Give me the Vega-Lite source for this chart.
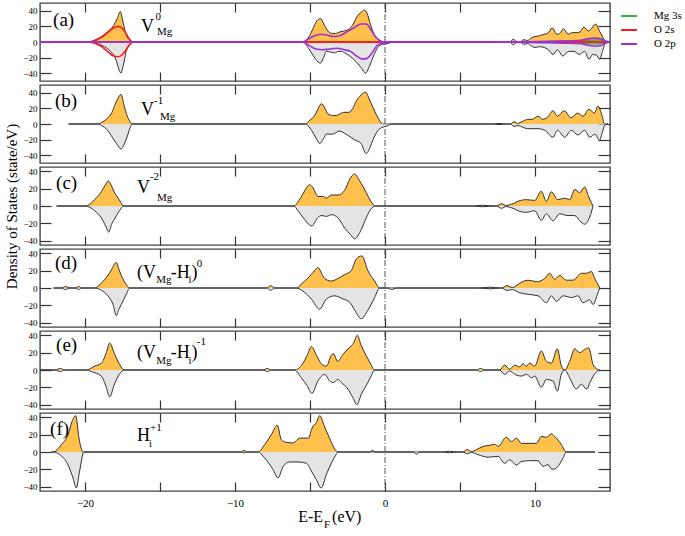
{
"$schema":"https://vega.github.io/schema/vega-lite/v6.json",
"background":"white",
"padding":{"left":3,"top":1,"right":5,"bottom":5},
"spacing":4,
"bounds":"flush",
"config":{
 "view":{"stroke":"#444","strokeWidth":1.4},
 "axis":{"grid":false,"domain":false,"tickColor":"#333","tickWidth":1.2,"labelFont":"Liberation Serif","labelFontSize":9,"labelColor":"#000","titleFont":"Liberation Serif","titleFontWeight":"normal","titleColor":"#000"},
 "text":{"font":"Liberation Serif","align":"left","baseline":"middle","fontSize":11,"color":"#000"}
},
"datasets":{
"a_up":[{"E":-23,"dos":0},{"E":-19.8,"dos":0},{"E":-19.3,"dos":3},{"E":-18.9,"dos":7},{"E":-18.5,"dos":13},{"E":-18.1,"dos":21},{"E":-17.85,"dos":30},{"E":-17.65,"dos":39},{"E":-17.45,"dos":24},{"E":-17.25,"dos":9},{"E":-17.0,"dos":2},{"E":-16.8,"dos":0},{"E":-5.45,"dos":0},{"E":-5.1,"dos":6},{"E":-4.8,"dos":17},{"E":-4.55,"dos":27},{"E":-4.3,"dos":30},{"E":-4.05,"dos":22},{"E":-3.8,"dos":14},{"E":-3.55,"dos":11},{"E":-3.3,"dos":11},{"E":-3.0,"dos":13},{"E":-2.75,"dos":14},{"E":-2.45,"dos":16},{"E":-2.15,"dos":22},{"E":-1.85,"dos":33},{"E":-1.6,"dos":38},{"E":-1.4,"dos":41},{"E":-1.2,"dos":37},{"E":-0.95,"dos":21},{"E":-0.7,"dos":9},{"E":-0.45,"dos":3},{"E":-0.25,"dos":0},{"E":7.1,"dos":0},{"E":7.3,"dos":0.8},{"E":7.5,"dos":0},{"E":8.3,"dos":0},{"E":8.55,"dos":3.5},{"E":8.85,"dos":0},{"E":9.0,"dos":0},{"E":9.25,"dos":3},{"E":9.5,"dos":2},{"E":9.75,"dos":5},{"E":10.0,"dos":7},{"E":10.3,"dos":8},{"E":10.6,"dos":10},{"E":10.85,"dos":11},{"E":11.15,"dos":18},{"E":11.45,"dos":10},{"E":11.65,"dos":11},{"E":11.9,"dos":17},{"E":12.2,"dos":10},{"E":12.5,"dos":12},{"E":12.75,"dos":12},{"E":13.0,"dos":13},{"E":13.25,"dos":19},{"E":13.55,"dos":14},{"E":13.75,"dos":17},{"E":14.05,"dos":23},{"E":14.3,"dos":14},{"E":14.55,"dos":5},{"E":14.7,"dos":0},{"E":15,"dos":0}],
"a_dn":[{"E":-23,"dos":0},{"E":-19.8,"dos":0},{"E":-19.2,"dos":-2},{"E":-18.8,"dos":-5},{"E":-18.3,"dos":-12},{"E":-17.95,"dos":-22},{"E":-17.7,"dos":-37},{"E":-17.6,"dos":-40},{"E":-17.45,"dos":-30},{"E":-17.25,"dos":-12},{"E":-17.0,"dos":-3},{"E":-16.8,"dos":0},{"E":-5.45,"dos":0},{"E":-5.1,"dos":-8},{"E":-4.8,"dos":-17},{"E":-4.55,"dos":-24},{"E":-4.3,"dos":-27},{"E":-4.1,"dos":-20},{"E":-3.9,"dos":-12},{"E":-3.6,"dos":-13},{"E":-3.35,"dos":-14},{"E":-3.1,"dos":-12},{"E":-2.9,"dos":-12},{"E":-2.6,"dos":-15},{"E":-2.35,"dos":-18},{"E":-2.05,"dos":-23},{"E":-1.8,"dos":-28},{"E":-1.55,"dos":-34},{"E":-1.3,"dos":-40},{"E":-1.1,"dos":-34},{"E":-0.85,"dos":-22},{"E":-0.6,"dos":-11},{"E":-0.4,"dos":-5},{"E":-0.1,"dos":-3},{"E":0.2,"dos":-2},{"E":0.45,"dos":0},{"E":7.1,"dos":0},{"E":7.3,"dos":-0.8},{"E":7.5,"dos":0},{"E":8.3,"dos":0},{"E":8.55,"dos":-3.5},{"E":8.85,"dos":0},{"E":9.0,"dos":0},{"E":9.25,"dos":-3},{"E":9.5,"dos":-2},{"E":9.75,"dos":-5},{"E":10.0,"dos":-7},{"E":10.3,"dos":-6},{"E":10.6,"dos":-7},{"E":10.9,"dos":-10},{"E":11.2,"dos":-16},{"E":11.5,"dos":-10},{"E":11.85,"dos":-18},{"E":12.25,"dos":-12},{"E":12.6,"dos":-12},{"E":12.95,"dos":-16},{"E":13.3,"dos":-12},{"E":13.6,"dos":-22},{"E":13.85,"dos":-16},{"E":14.1,"dos":-17},{"E":14.3,"dos":-22},{"E":14.5,"dos":-12},{"E":14.65,"dos":-3},{"E":14.85,"dos":0},{"E":15,"dos":0}],
"a_pdos":[{"orb":"Mg 3s","spin":"up","E":-23,"dos":0},{"orb":"Mg 3s","spin":"up","E":9,"dos":0},{"orb":"Mg 3s","spin":"up","E":11,"dos":0.5},{"orb":"Mg 3s","spin":"up","E":12.5,"dos":1.5},{"orb":"Mg 3s","spin":"up","E":13.5,"dos":2},{"orb":"Mg 3s","spin":"up","E":14.2,"dos":2.5},{"orb":"Mg 3s","spin":"up","E":14.7,"dos":1},{"orb":"Mg 3s","spin":"up","E":15,"dos":0},
{"orb":"Mg 3s","spin":"dn","E":-23,"dos":0},{"orb":"Mg 3s","spin":"dn","E":9,"dos":0},{"orb":"Mg 3s","spin":"dn","E":11,"dos":-0.5},{"orb":"Mg 3s","spin":"dn","E":12.5,"dos":-1.5},{"orb":"Mg 3s","spin":"dn","E":13.5,"dos":-2},{"orb":"Mg 3s","spin":"dn","E":14.2,"dos":-2.5},{"orb":"Mg 3s","spin":"dn","E":14.7,"dos":-1},{"orb":"Mg 3s","spin":"dn","E":15,"dos":0},
{"orb":"O 2s","spin":"up","E":-23,"dos":0},{"orb":"O 2s","spin":"up","E":-19.8,"dos":0},{"orb":"O 2s","spin":"up","E":-19.3,"dos":2},{"orb":"O 2s","spin":"up","E":-18.9,"dos":6},{"orb":"O 2s","spin":"up","E":-18.5,"dos":12},{"orb":"O 2s","spin":"up","E":-18.1,"dos":18},{"orb":"O 2s","spin":"up","E":-17.8,"dos":20},{"orb":"O 2s","spin":"up","E":-17.55,"dos":18},{"orb":"O 2s","spin":"up","E":-17.3,"dos":12},{"orb":"O 2s","spin":"up","E":-17.05,"dos":4},{"orb":"O 2s","spin":"up","E":-16.8,"dos":0},{"orb":"O 2s","spin":"up","E":15,"dos":0},
{"orb":"O 2s","spin":"dn","E":-23,"dos":0},{"orb":"O 2s","spin":"dn","E":-19.8,"dos":0},{"orb":"O 2s","spin":"dn","E":-19.3,"dos":-2},{"orb":"O 2s","spin":"dn","E":-18.9,"dos":-6},{"orb":"O 2s","spin":"dn","E":-18.5,"dos":-12},{"orb":"O 2s","spin":"dn","E":-18.1,"dos":-18},{"orb":"O 2s","spin":"dn","E":-17.8,"dos":-19},{"orb":"O 2s","spin":"dn","E":-17.55,"dos":-17},{"orb":"O 2s","spin":"dn","E":-17.3,"dos":-11},{"orb":"O 2s","spin":"dn","E":-17.05,"dos":-4},{"orb":"O 2s","spin":"dn","E":-16.8,"dos":0},{"orb":"O 2s","spin":"dn","E":15,"dos":0},
{"orb":"O 2p","spin":"up","E":-23,"dos":0},{"orb":"O 2p","spin":"up","E":-5.5,"dos":0},{"orb":"O 2p","spin":"up","E":-5.1,"dos":4},{"orb":"O 2p","spin":"up","E":-4.7,"dos":8},{"orb":"O 2p","spin":"up","E":-4.3,"dos":10},{"orb":"O 2p","spin":"up","E":-3.9,"dos":9},{"orb":"O 2p","spin":"up","E":-3.4,"dos":7},{"orb":"O 2p","spin":"up","E":-2.9,"dos":9},{"orb":"O 2p","spin":"up","E":-2.45,"dos":14},{"orb":"O 2p","spin":"up","E":-2.0,"dos":19},{"orb":"O 2p","spin":"up","E":-1.6,"dos":23},{"orb":"O 2p","spin":"up","E":-1.25,"dos":23},{"orb":"O 2p","spin":"up","E":-0.95,"dos":16},{"orb":"O 2p","spin":"up","E":-0.65,"dos":7},{"orb":"O 2p","spin":"up","E":-0.35,"dos":2},{"orb":"O 2p","spin":"up","E":-0.1,"dos":0},{"orb":"O 2p","spin":"up","E":7,"dos":0},{"orb":"O 2p","spin":"up","E":11,"dos":1},{"orb":"O 2p","spin":"up","E":13,"dos":2},{"orb":"O 2p","spin":"up","E":13.5,"dos":4},{"orb":"O 2p","spin":"up","E":14,"dos":5},{"orb":"O 2p","spin":"up","E":14.4,"dos":4},{"orb":"O 2p","spin":"up","E":14.75,"dos":1},{"orb":"O 2p","spin":"up","E":15,"dos":0},
{"orb":"O 2p","spin":"dn","E":-23,"dos":0},{"orb":"O 2p","spin":"dn","E":-5.5,"dos":0},{"orb":"O 2p","spin":"dn","E":-5.1,"dos":-4},{"orb":"O 2p","spin":"dn","E":-4.6,"dos":-9},{"orb":"O 2p","spin":"dn","E":-4.2,"dos":-10},{"orb":"O 2p","spin":"dn","E":-3.7,"dos":-9},{"orb":"O 2p","spin":"dn","E":-3.2,"dos":-8},{"orb":"O 2p","spin":"dn","E":-2.7,"dos":-10},{"orb":"O 2p","spin":"dn","E":-2.3,"dos":-12},{"orb":"O 2p","spin":"dn","E":-1.9,"dos":-18},{"orb":"O 2p","spin":"dn","E":-1.5,"dos":-22},{"orb":"O 2p","spin":"dn","E":-1.2,"dos":-21},{"orb":"O 2p","spin":"dn","E":-0.9,"dos":-15},{"orb":"O 2p","spin":"dn","E":-0.5,"dos":-4},{"orb":"O 2p","spin":"dn","E":-0.2,"dos":-1.5},{"orb":"O 2p","spin":"dn","E":0.2,"dos":-1},{"orb":"O 2p","spin":"dn","E":0.5,"dos":0},{"orb":"O 2p","spin":"dn","E":7,"dos":0},{"orb":"O 2p","spin":"dn","E":11,"dos":-1},{"orb":"O 2p","spin":"dn","E":13,"dos":-2},{"orb":"O 2p","spin":"dn","E":13.5,"dos":-4},{"orb":"O 2p","spin":"dn","E":14,"dos":-5.5},{"orb":"O 2p","spin":"dn","E":14.4,"dos":-4.5},{"orb":"O 2p","spin":"dn","E":14.75,"dos":-1},{"orb":"O 2p","spin":"dn","E":15,"dos":0}],
"b_up":[{"E":-21.1,"dos":0},{"E":-19.2,"dos":0},{"E":-18.8,"dos":3},{"E":-18.45,"dos":8.5},{"E":-18.2,"dos":15},{"E":-18.0,"dos":25},{"E":-17.8,"dos":33},{"E":-17.6,"dos":38},{"E":-17.4,"dos":24},{"E":-17.2,"dos":11},{"E":-17.0,"dos":3},{"E":-16.9,"dos":0},{"E":-5.3,"dos":0},{"E":-5.0,"dos":5},{"E":-4.7,"dos":10.5},{"E":-4.45,"dos":20},{"E":-4.25,"dos":26},{"E":-4.0,"dos":20},{"E":-3.8,"dos":13},{"E":-3.5,"dos":11},{"E":-3.25,"dos":11},{"E":-3.0,"dos":13},{"E":-2.75,"dos":15},{"E":-2.4,"dos":15},{"E":-2.15,"dos":20},{"E":-1.9,"dos":30},{"E":-1.6,"dos":37},{"E":-1.3,"dos":41},{"E":-1.05,"dos":32},{"E":-0.8,"dos":21},{"E":-0.55,"dos":11},{"E":-0.35,"dos":4},{"E":-0.15,"dos":0},{"E":7.2,"dos":0},{"E":7.6,"dos":0.8},{"E":8.1,"dos":0},{"E":8.35,"dos":0},{"E":8.6,"dos":3},{"E":8.85,"dos":0.5},{"E":9.0,"dos":2},{"E":9.25,"dos":4},{"E":9.5,"dos":6},{"E":9.8,"dos":6},{"E":10.2,"dos":10},{"E":10.5,"dos":6},{"E":10.85,"dos":9},{"E":11.2,"dos":17},{"E":11.5,"dos":10},{"E":11.95,"dos":17},{"E":12.4,"dos":8},{"E":12.85,"dos":14},{"E":13.2,"dos":10},{"E":13.6,"dos":19},{"E":13.95,"dos":14},{"E":14.2,"dos":23},{"E":14.45,"dos":12},{"E":14.64,"dos":0},{"E":14.87,"dos":0}],
"b_dn":[{"E":-21.1,"dos":0},{"E":-19.2,"dos":0},{"E":-18.9,"dos":-2},{"E":-18.5,"dos":-8},{"E":-18.25,"dos":-15},{"E":-17.9,"dos":-25},{"E":-17.6,"dos":-32},{"E":-17.35,"dos":-24},{"E":-17.15,"dos":-14},{"E":-17.0,"dos":-5},{"E":-16.85,"dos":0},{"E":-5.3,"dos":0},{"E":-4.9,"dos":-8},{"E":-4.6,"dos":-18},{"E":-4.35,"dos":-25},{"E":-4.1,"dos":-19},{"E":-3.9,"dos":-13},{"E":-3.5,"dos":-13},{"E":-3.05,"dos":-9},{"E":-2.6,"dos":-13},{"E":-2.05,"dos":-20},{"E":-1.6,"dos":-25},{"E":-1.25,"dos":-38},{"E":-1.0,"dos":-30},{"E":-0.8,"dos":-20},{"E":-0.35,"dos":-6},{"E":0.2,"dos":-2},{"E":0.4,"dos":0},{"E":7.2,"dos":0},{"E":7.6,"dos":-0.8},{"E":8.1,"dos":0},{"E":8.35,"dos":0},{"E":8.6,"dos":-3},{"E":8.85,"dos":-2},{"E":9.5,"dos":-6},{"E":10.2,"dos":-6},{"E":10.65,"dos":-8},{"E":11.2,"dos":-17},{"E":11.5,"dos":-8},{"E":11.98,"dos":-17},{"E":12.42,"dos":-8},{"E":12.87,"dos":-14},{"E":13.3,"dos":-8},{"E":13.65,"dos":-17},{"E":14.0,"dos":-13},{"E":14.3,"dos":-21},{"E":14.5,"dos":-10},{"E":14.64,"dos":-2},{"E":14.87,"dos":0}],
"c_up":[{"E":-21.9,"dos":0},{"E":-20.0,"dos":0},{"E":-19.6,"dos":3},{"E":-19.35,"dos":7.5},{"E":-19.1,"dos":12},{"E":-18.9,"dos":17},{"E":-18.65,"dos":24},{"E":-18.45,"dos":29},{"E":-18.25,"dos":24},{"E":-18.05,"dos":16},{"E":-17.9,"dos":12},{"E":-17.75,"dos":8},{"E":-17.6,"dos":4},{"E":-17.45,"dos":0},{"E":-6.07,"dos":0},{"E":-5.75,"dos":6},{"E":-5.47,"dos":14},{"E":-5.2,"dos":22},{"E":-5.02,"dos":24.5},{"E":-4.8,"dos":21},{"E":-4.6,"dos":14},{"E":-4.47,"dos":11},{"E":-4.13,"dos":11},{"E":-3.91,"dos":9},{"E":-3.58,"dos":12.7},{"E":-3.13,"dos":12.7},{"E":-2.69,"dos":18},{"E":-2.35,"dos":31},{"E":-2.02,"dos":37},{"E":-1.69,"dos":29},{"E":-1.45,"dos":22},{"E":-1.25,"dos":15.5},{"E":-1.0,"dos":7},{"E":-0.8,"dos":2},{"E":-0.65,"dos":0},{"E":5.8,"dos":0},{"E":6.5,"dos":0.8},{"E":7.3,"dos":0},{"E":7.45,"dos":0},{"E":7.75,"dos":2.7},{"E":8.1,"dos":0.5},{"E":8.3,"dos":1.5},{"E":8.6,"dos":3},{"E":8.87,"dos":5.5},{"E":9.43,"dos":7.3},{"E":9.98,"dos":6.4},{"E":10.42,"dos":17},{"E":10.76,"dos":5.5},{"E":11.09,"dos":16.4},{"E":11.53,"dos":7.3},{"E":11.98,"dos":9},{"E":12.31,"dos":7.3},{"E":12.65,"dos":19},{"E":12.98,"dos":15.5},{"E":13.31,"dos":22},{"E":13.55,"dos":12},{"E":13.75,"dos":4},{"E":13.87,"dos":0}],
"c_dn":[{"E":-21.9,"dos":0},{"E":-20.0,"dos":0},{"E":-19.35,"dos":-5.5},{"E":-18.9,"dos":-14},{"E":-18.6,"dos":-24},{"E":-18.42,"dos":-30},{"E":-18.2,"dos":-20},{"E":-18.0,"dos":-14},{"E":-17.8,"dos":-8},{"E":-17.6,"dos":-3},{"E":-17.45,"dos":0},{"E":-6.07,"dos":0},{"E":-5.8,"dos":-5.5},{"E":-5.36,"dos":-15.5},{"E":-5.1,"dos":-21},{"E":-4.87,"dos":-23},{"E":-4.65,"dos":-18},{"E":-4.5,"dos":-13.6},{"E":-4.2,"dos":-11},{"E":-3.91,"dos":-12},{"E":-3.58,"dos":-10},{"E":-3.13,"dos":-13.6},{"E":-2.69,"dos":-25.5},{"E":-2.3,"dos":-33},{"E":-2.02,"dos":-38},{"E":-1.69,"dos":-31},{"E":-1.25,"dos":-13.6},{"E":-1.0,"dos":-5},{"E":-0.8,"dos":-1},{"E":-0.65,"dos":0},{"E":5.8,"dos":0},{"E":6.5,"dos":-0.8},{"E":7.3,"dos":0},{"E":7.45,"dos":0},{"E":7.75,"dos":-2.7},{"E":8.1,"dos":-0.5},{"E":8.3,"dos":-1.5},{"E":8.6,"dos":-3},{"E":8.87,"dos":-5.5},{"E":9.43,"dos":-7.3},{"E":9.98,"dos":-5.5},{"E":10.42,"dos":-16.4},{"E":10.76,"dos":-9},{"E":11.2,"dos":-17},{"E":11.64,"dos":-9},{"E":12.2,"dos":-11},{"E":12.65,"dos":-11},{"E":12.98,"dos":-17},{"E":13.31,"dos":-21},{"E":13.65,"dos":-12.7},{"E":13.87,"dos":0}],
"d_up":[{"E":-22.1,"dos":0},{"E":-21.6,"dos":0},{"E":-21.3,"dos":1.8},{"E":-21.0,"dos":0},{"E":-20.64,"dos":0},{"E":-20.42,"dos":1.8},{"E":-20.2,"dos":0},{"E":-19.36,"dos":0},{"E":-19.0,"dos":4},{"E":-18.7,"dos":9.5},{"E":-18.45,"dos":15},{"E":-18.24,"dos":21},{"E":-17.91,"dos":29.5},{"E":-17.75,"dos":22},{"E":-17.58,"dos":14.5},{"E":-17.4,"dos":8},{"E":-17.24,"dos":3.6},{"E":-17.02,"dos":0},{"E":-7.9,"dos":0},{"E":-7.62,"dos":2.7},{"E":-7.35,"dos":0},{"E":-5.91,"dos":0},{"E":-5.6,"dos":4},{"E":-5.36,"dos":8},{"E":-5.05,"dos":13},{"E":-4.8,"dos":18},{"E":-4.47,"dos":23.5},{"E":-4.2,"dos":16},{"E":-4.02,"dos":11},{"E":-3.58,"dos":8},{"E":-3.13,"dos":11},{"E":-2.69,"dos":15.5},{"E":-2.25,"dos":20},{"E":-1.91,"dos":33.6},{"E":-1.54,"dos":37},{"E":-1.14,"dos":20},{"E":-0.69,"dos":8},{"E":-0.36,"dos":0},{"E":6.2,"dos":0},{"E":7.0,"dos":0.9},{"E":7.76,"dos":0},{"E":8.13,"dos":2.7},{"E":8.5,"dos":0.5},{"E":8.98,"dos":5.5},{"E":9.54,"dos":9},{"E":10.09,"dos":7.3},{"E":10.65,"dos":11},{"E":10.98,"dos":17},{"E":11.31,"dos":10},{"E":11.65,"dos":14.5},{"E":12.09,"dos":9},{"E":12.54,"dos":9},{"E":13.09,"dos":17},{"E":13.43,"dos":17},{"E":13.76,"dos":19},{"E":13.98,"dos":11},{"E":14.2,"dos":4},{"E":14.31,"dos":0}],
"d_dn":[{"E":-22.1,"dos":0},{"E":-21.6,"dos":0},{"E":-21.3,"dos":-1.8},{"E":-21.0,"dos":0},{"E":-20.64,"dos":0},{"E":-20.42,"dos":-1.8},{"E":-20.2,"dos":0},{"E":-19.36,"dos":0},{"E":-18.9,"dos":-2.7},{"E":-18.47,"dos":-9},{"E":-18.13,"dos":-19},{"E":-17.91,"dos":-32},{"E":-17.75,"dos":-25},{"E":-17.58,"dos":-19},{"E":-17.24,"dos":-7},{"E":-17.02,"dos":0},{"E":-7.9,"dos":0},{"E":-7.62,"dos":-2.7},{"E":-7.35,"dos":0},{"E":-5.91,"dos":0},{"E":-5.47,"dos":-3.6},{"E":-4.91,"dos":-12.7},{"E":-4.36,"dos":-24.5},{"E":-3.91,"dos":-12.7},{"E":-3.36,"dos":-9},{"E":-2.8,"dos":-12.7},{"E":-2.36,"dos":-16.4},{"E":-2.02,"dos":-25.5},{"E":-1.58,"dos":-35.5},{"E":-1.14,"dos":-25.5},{"E":-0.69,"dos":-11},{"E":-0.36,"dos":0},{"E":0.2,"dos":0},{"E":0.45,"dos":-1.8},{"E":0.75,"dos":0},{"E":6.2,"dos":0},{"E":7.0,"dos":-0.9},{"E":7.76,"dos":0},{"E":8.13,"dos":-2.7},{"E":8.5,"dos":-1.8},{"E":8.98,"dos":-5.5},{"E":9.54,"dos":-7.3},{"E":10.2,"dos":-9},{"E":10.76,"dos":-17},{"E":11.09,"dos":-9},{"E":11.43,"dos":-15.5},{"E":11.87,"dos":-9},{"E":12.43,"dos":-11},{"E":12.87,"dos":-9},{"E":13.2,"dos":-17},{"E":13.65,"dos":-13.6},{"E":13.87,"dos":-19},{"E":14.15,"dos":-8},{"E":14.31,"dos":0}],
"e_up":[{"E":-23,"dos":0},{"E":-22.0,"dos":0},{"E":-21.63,"dos":1.8},{"E":-21.36,"dos":0},{"E":-19.91,"dos":0},{"E":-19.36,"dos":4.5},{"E":-18.9,"dos":8},{"E":-18.58,"dos":20},{"E":-18.36,"dos":31},{"E":-18.02,"dos":18},{"E":-17.69,"dos":6.4},{"E":-17.4,"dos":0},{"E":-8.13,"dos":0},{"E":-7.85,"dos":1.8},{"E":-7.58,"dos":0},{"E":-6.03,"dos":0},{"E":-5.5,"dos":7},{"E":-5.2,"dos":16.5},{"E":-4.9,"dos":27},{"E":-4.6,"dos":18},{"E":-4.2,"dos":6.4},{"E":-3.9,"dos":4.5},{"E":-3.6,"dos":16.4},{"E":-3.45,"dos":19},{"E":-3.15,"dos":10},{"E":-2.8,"dos":18},{"E":-2.4,"dos":25.5},{"E":-2.1,"dos":31},{"E":-1.85,"dos":40},{"E":-1.6,"dos":29},{"E":-1.25,"dos":16.4},{"E":-0.95,"dos":7},{"E":-0.7,"dos":0},{"E":6.09,"dos":0},{"E":6.37,"dos":1.8},{"E":6.65,"dos":0},{"E":7.65,"dos":0},{"E":7.98,"dos":5.7},{"E":8.31,"dos":1},{"E":8.65,"dos":5.5},{"E":8.98,"dos":3.6},{"E":9.2,"dos":7.3},{"E":9.43,"dos":4.5},{"E":9.65,"dos":8},{"E":9.98,"dos":4.5},{"E":10.42,"dos":22},{"E":10.76,"dos":10},{"E":11.09,"dos":8},{"E":11.49,"dos":24.5},{"E":11.76,"dos":4.5},{"E":11.98,"dos":0},{"E":12.31,"dos":10},{"E":12.65,"dos":24.5},{"E":12.98,"dos":20},{"E":13.31,"dos":23.7},{"E":13.58,"dos":25.5},{"E":13.87,"dos":6.4},{"E":14.1,"dos":1.5},{"E":14.31,"dos":0}],
"e_dn":[{"E":-23,"dos":0},{"E":-22.0,"dos":0},{"E":-21.63,"dos":-1.8},{"E":-21.36,"dos":0},{"E":-19.91,"dos":0},{"E":-19.58,"dos":-1.8},{"E":-18.9,"dos":-7.3},{"E":-18.58,"dos":-20},{"E":-18.36,"dos":-31},{"E":-18.02,"dos":-15.5},{"E":-17.69,"dos":-4.5},{"E":-17.4,"dos":0},{"E":-8.13,"dos":0},{"E":-7.85,"dos":-1.8},{"E":-7.58,"dos":0},{"E":-6.03,"dos":0},{"E":-5.58,"dos":-9},{"E":-5.2,"dos":-18},{"E":-4.87,"dos":-27},{"E":-4.47,"dos":-12.7},{"E":-4.02,"dos":-5},{"E":-3.69,"dos":-12.7},{"E":-3.47,"dos":-14.5},{"E":-3.14,"dos":-11},{"E":-2.91,"dos":-14.5},{"E":-2.47,"dos":-22},{"E":-2.14,"dos":-32},{"E":-1.87,"dos":-40},{"E":-1.58,"dos":-28},{"E":-1.14,"dos":-14.5},{"E":-0.9,"dos":-6},{"E":-0.69,"dos":0},{"E":6.09,"dos":0},{"E":6.37,"dos":-1.8},{"E":6.65,"dos":0},{"E":7.65,"dos":0},{"E":7.98,"dos":-5},{"E":8.31,"dos":-1},{"E":8.65,"dos":-5},{"E":9.09,"dos":-7},{"E":9.43,"dos":-5},{"E":9.76,"dos":-9},{"E":9.98,"dos":-7},{"E":10.42,"dos":-20},{"E":10.76,"dos":-11},{"E":11.2,"dos":-12.7},{"E":11.49,"dos":-24.5},{"E":11.76,"dos":-4.5},{"E":11.98,"dos":0},{"E":12.31,"dos":-9},{"E":12.76,"dos":-22},{"E":13.09,"dos":-16.4},{"E":13.43,"dos":-22},{"E":13.71,"dos":-12.7},{"E":14.0,"dos":-4},{"E":14.31,"dos":0}],
"f_up":[{"E":-22.24,"dos":0},{"E":-22.13,"dos":0},{"E":-21.58,"dos":8.4},{"E":-21.13,"dos":20},{"E":-20.87,"dos":35},{"E":-20.62,"dos":42},{"E":-20.4,"dos":16},{"E":-20.13,"dos":0},{"E":-9.6,"dos":0},{"E":-9.4,"dos":2},{"E":-9.2,"dos":0},{"E":-8.47,"dos":0},{"E":-8.02,"dos":8.5},{"E":-7.58,"dos":20},{"E":-7.18,"dos":31},{"E":-6.91,"dos":14},{"E":-6.64,"dos":11.5},{"E":-6.13,"dos":10.4},{"E":-5.69,"dos":16},{"E":-5.1,"dos":16},{"E":-4.9,"dos":26},{"E":-4.75,"dos":31},{"E":-4.6,"dos":33},{"E":-4.35,"dos":42},{"E":-4.05,"dos":30},{"E":-3.7,"dos":16},{"E":-3.4,"dos":5},{"E":-3.15,"dos":0},{"E":-1.0,"dos":0},{"E":-0.82,"dos":2},{"E":-0.65,"dos":0},{"E":3.76,"dos":0},{"E":4.3,"dos":0.8},{"E":4.87,"dos":0},{"E":5.2,"dos":0},{"E":5.48,"dos":3},{"E":5.76,"dos":0.5},{"E":6.09,"dos":2.7},{"E":6.54,"dos":6.5},{"E":6.98,"dos":7.7},{"E":7.31,"dos":9},{"E":7.54,"dos":6.5},{"E":8.09,"dos":17},{"E":8.43,"dos":12},{"E":8.76,"dos":16},{"E":9.09,"dos":10},{"E":9.54,"dos":10},{"E":10.09,"dos":10},{"E":10.43,"dos":18},{"E":10.76,"dos":17},{"E":11.09,"dos":21},{"E":11.31,"dos":18},{"E":11.76,"dos":8.5},{"E":12.09,"dos":0},{"E":14.0,"dos":0}],
"f_dn":[{"E":-22.24,"dos":0},{"E":-22.13,"dos":0},{"E":-21.69,"dos":-3},{"E":-21.13,"dos":-15},{"E":-20.8,"dos":-30},{"E":-20.58,"dos":-41.5},{"E":-20.36,"dos":-22},{"E":-20.07,"dos":0},{"E":-9.6,"dos":0},{"E":-9.4,"dos":-1},{"E":-9.2,"dos":0},{"E":-8.47,"dos":0},{"E":-8.02,"dos":-7},{"E":-7.47,"dos":-20},{"E":-7.13,"dos":-30},{"E":-6.8,"dos":-17},{"E":-6.36,"dos":-11.5},{"E":-5.8,"dos":-11.5},{"E":-5.24,"dos":-13},{"E":-4.91,"dos":-22},{"E":-4.58,"dos":-32},{"E":-4.25,"dos":-41.5},{"E":-3.91,"dos":-26},{"E":-3.58,"dos":-13},{"E":-3.3,"dos":-4},{"E":-3.14,"dos":0},{"E":1.87,"dos":0},{"E":2.1,"dos":-2.3},{"E":2.31,"dos":0},{"E":3.76,"dos":0},{"E":4.3,"dos":-0.8},{"E":4.87,"dos":0},{"E":5.2,"dos":0},{"E":5.48,"dos":-2},{"E":5.76,"dos":-0.5},{"E":6.2,"dos":-3},{"E":6.87,"dos":-6},{"E":7.54,"dos":-5},{"E":7.98,"dos":-13},{"E":8.31,"dos":-9},{"E":8.76,"dos":-15},{"E":9.09,"dos":-11},{"E":9.65,"dos":-10},{"E":10.2,"dos":-10},{"E":10.54,"dos":-16.5},{"E":10.87,"dos":-14.6},{"E":11.14,"dos":-20},{"E":11.42,"dos":-18.5},{"E":11.87,"dos":-7},{"E":12.09,"dos":0},{"E":14.0,"dos":0}]
},
"vconcat":[
{"width":570,"height":78,"resolve":{"axis":{"x":"independent","y":"independent"}},"layer":[
 {"data":{"name":"a_up"},"mark":{"type":"area","color":"#ffa500","interpolate":"monotone","line":{"color":"#303030","strokeWidth":1}},"encoding":{"x":{"field":"E","type":"quantitative","scale":{"domain":[-23,15],"nice":false,"zero":false},"axis":{"orient":"bottom","values":[-20,-15,-10,-5,0,5,10],"tickSize":-9,"labels":false,"title":null}},"y":{"field":"dos","type":"quantitative","scale":{"domain":[-50,50],"nice":false},"axis":{"orient":"left","values":[-40,-20,0,20,40],"tickSize":-11,"labelPadding":14,"title":null}}}},
 {"data":{"name":"a_dn"},"mark":{"type":"area","color":"#d9d9d9","interpolate":"monotone","line":{"color":"#303030","strokeWidth":1}},"encoding":{"x":{"field":"E","type":"quantitative","axis":{"orient":"top","values":[-20,-15,-10,-5,0,5,10],"tickSize":-9,"labels":false,"title":null}},"y":{"field":"dos","type":"quantitative","axis":{"orient":"right","values":[-40,-20,0,20,40],"tickSize":-12,"labels":false,"title":null}}}},
 {"data":{"values":[{}]},"mark":{"type":"rule","color":"#555","strokeWidth":1,"strokeDash":[6,2,1,2]},"encoding":{"x":{"datum":0,"axis":null}}},
 {"data":{"name":"a_pdos"},"transform":[{"filter":"datum.orb === 'Mg 3s'"}],"mark":{"type":"line","interpolate":"monotone","strokeWidth":1.6},"encoding":{"x":{"field":"E","type":"quantitative","axis":null},"y":{"field":"dos","type":"quantitative","axis":null},"detail":{"field":"spin"},"color":{"field":"orb","type":"nominal","scale":{"domain":["Mg 3s","O 2s","O 2p"],"range":["#3cb043","#ff1a1a","#9b30d9"]},"legend":{"orient":"none","legendX":580,"legendY":4,"title":null,"labelFont":"Liberation Serif","labelFontSize":11,"labelColor":"#000","symbolType":"stroke","symbolStrokeWidth":2,"symbolSize":250,"labelOffset":16,"rowPadding":-2}}}},
 {"data":{"name":"a_pdos"},"transform":[{"filter":"datum.orb === 'O 2s'"}],"mark":{"type":"line","interpolate":"monotone","strokeWidth":1.6},"encoding":{"x":{"field":"E","type":"quantitative","axis":null},"y":{"field":"dos","type":"quantitative","axis":null},"detail":{"field":"spin"},"color":{"field":"orb","type":"nominal"}}},
 {"data":{"name":"a_pdos"},"transform":[{"filter":"datum.orb === 'O 2p'"}],"mark":{"type":"line","interpolate":"monotone","strokeWidth":1.6},"encoding":{"x":{"field":"E","type":"quantitative","axis":null},"y":{"field":"dos","type":"quantitative","axis":null},"detail":{"field":"spin"},"color":{"field":"orb","type":"nominal"}}},
 {"data":{"values":[{}]},"mark":{"type":"text","text":"(a)","fontSize":19},"encoding":{"x":{"datum":-22.13,"axis":null},"y":{"datum":28.3,"axis":null}}},
 {"data":{"values":[{}]},"mark":{"type":"text","text":"V","fontSize":18},"encoding":{"x":{"datum":-16.27,"axis":null},"y":{"datum":19.7,"axis":null}}},
 {"data":{"values":[{}]},"mark":{"type":"text","text":"0"},"encoding":{"x":{"datum":-15.3,"axis":null},"y":{"datum":31.8,"axis":null}}},
 {"data":{"values":[{}]},"mark":{"type":"text","text":"Mg"},"encoding":{"x":{"datum":-15.2,"axis":null},"y":{"datum":12.7,"axis":null}}}
]},
{"width":570,"height":78,"resolve":{"axis":{"x":"independent","y":"independent"}},"layer":[
 {"data":{"name":"b_up"},"mark":{"type":"area","color":"#ffa500","interpolate":"monotone","line":{"color":"#303030","strokeWidth":1}},"encoding":{"x":{"field":"E","type":"quantitative","scale":{"domain":[-23,15],"nice":false,"zero":false},"axis":{"orient":"bottom","values":[-20,-15,-10,-5,0,5,10],"tickSize":-9,"labels":false,"title":null}},"y":{"field":"dos","type":"quantitative","scale":{"domain":[-50,50],"nice":false},"axis":{"orient":"left","values":[-40,-20,0,20,40],"tickSize":-11,"labelPadding":14,"title":null}}}},
 {"data":{"name":"b_dn"},"mark":{"type":"area","color":"#d9d9d9","interpolate":"monotone","line":{"color":"#303030","strokeWidth":1}},"encoding":{"x":{"field":"E","type":"quantitative","axis":{"orient":"top","values":[-20,-15,-10,-5,0,5,10],"tickSize":-9,"labels":false,"title":null}},"y":{"field":"dos","type":"quantitative","axis":{"orient":"right","values":[-40,-20,0,20,40],"tickSize":-12,"labels":false,"title":null}}}},
 {"data":{"values":[{}]},"mark":{"type":"rule","color":"#555","strokeWidth":1,"strokeDash":[6,2,1,2]},"encoding":{"x":{"datum":0,"axis":null}}},
 {"data":{"values":[{}]},"mark":{"type":"text","text":"(b)","fontSize":19},"encoding":{"x":{"datum":-22.0,"axis":null},"y":{"datum":30,"axis":null}}},
 {"data":{"values":[{}]},"mark":{"type":"text","text":"V","fontSize":18},"encoding":{"x":{"datum":-16.27,"axis":null},"y":{"datum":17.8,"axis":null}}},
 {"data":{"values":[{}]},"mark":{"type":"text","text":"-1"},"encoding":{"x":{"datum":-15.4,"axis":null},"y":{"datum":29,"axis":null}}},
 {"data":{"values":[{}]},"mark":{"type":"text","text":"Mg"},"encoding":{"x":{"datum":-15.0,"axis":null},"y":{"datum":9,"axis":null}}}
]},
{"width":570,"height":78,"resolve":{"axis":{"x":"independent","y":"independent"}},"layer":[
 {"data":{"name":"c_up"},"mark":{"type":"area","color":"#ffa500","interpolate":"monotone","line":{"color":"#303030","strokeWidth":1}},"encoding":{"x":{"field":"E","type":"quantitative","scale":{"domain":[-23,15],"nice":false,"zero":false},"axis":{"orient":"bottom","values":[-20,-15,-10,-5,0,5,10],"tickSize":-9,"labels":false,"title":null}},"y":{"field":"dos","type":"quantitative","scale":{"domain":[-45,45],"nice":false},"axis":{"orient":"left","values":[-40,-20,0,20,40],"tickSize":-11,"labelPadding":14,"title":"Density of  States (state/eV)","titleX":-29,"titleAngle":-90,"titleAlign":"center","titleBaseline":"middle","titleFontSize":15}}}},
 {"data":{"name":"c_dn"},"mark":{"type":"area","color":"#d9d9d9","interpolate":"monotone","line":{"color":"#303030","strokeWidth":1}},"encoding":{"x":{"field":"E","type":"quantitative","axis":{"orient":"top","values":[-20,-15,-10,-5,0,5,10],"tickSize":-9,"labels":false,"title":null}},"y":{"field":"dos","type":"quantitative","axis":{"orient":"right","values":[-40,-20,0,20,40],"tickSize":-12,"labels":false,"title":null}}}},
 {"data":{"values":[{}]},"mark":{"type":"rule","color":"#555","strokeWidth":1,"strokeDash":[6,2,1,2]},"encoding":{"x":{"datum":0,"axis":null}}},
 {"data":{"values":[{}]},"mark":{"type":"text","text":"(c)","fontSize":19},"encoding":{"x":{"datum":-21.93,"axis":null},"y":{"datum":27,"axis":null}}},
 {"data":{"values":[{}]},"mark":{"type":"text","text":"V","fontSize":18},"encoding":{"x":{"datum":-16.53,"axis":null},"y":{"datum":21,"axis":null}}},
 {"data":{"values":[{}]},"mark":{"type":"text","text":"-2"},"encoding":{"x":{"datum":-15.67,"axis":null},"y":{"datum":34,"axis":null}}},
 {"data":{"values":[{}]},"mark":{"type":"text","text":"Mg"},"encoding":{"x":{"datum":-15.2,"axis":null},"y":{"datum":8.7,"axis":null}}}
]},
{"width":570,"height":78,"resolve":{"axis":{"x":"independent","y":"independent"}},"layer":[
 {"data":{"name":"d_up"},"mark":{"type":"area","color":"#ffa500","interpolate":"monotone","line":{"color":"#303030","strokeWidth":1}},"encoding":{"x":{"field":"E","type":"quantitative","scale":{"domain":[-23,15],"nice":false,"zero":false},"axis":{"orient":"bottom","values":[-20,-15,-10,-5,0,5,10],"tickSize":-9,"labels":false,"title":null}},"y":{"field":"dos","type":"quantitative","scale":{"domain":[-45,45],"nice":false},"axis":{"orient":"left","values":[-40,-20,0,20,40],"tickSize":-11,"labelPadding":14,"title":null}}}},
 {"data":{"name":"d_dn"},"mark":{"type":"area","color":"#d9d9d9","interpolate":"monotone","line":{"color":"#303030","strokeWidth":1}},"encoding":{"x":{"field":"E","type":"quantitative","axis":{"orient":"top","values":[-20,-15,-10,-5,0,5,10],"tickSize":-9,"labels":false,"title":null}},"y":{"field":"dos","type":"quantitative","axis":{"orient":"right","values":[-40,-20,0,20,40],"tickSize":-12,"labels":false,"title":null}}}},
 {"data":{"values":[{}]},"mark":{"type":"rule","color":"#555","strokeWidth":1,"strokeDash":[6,2,1,2]},"encoding":{"x":{"datum":0,"axis":null}}},
 {"data":{"values":[{}]},"mark":{"type":"text","text":"(d)","fontSize":19},"encoding":{"x":{"datum":-22.0,"axis":null},"y":{"datum":28.8,"axis":null}}},
 {"data":{"values":[{}]},"mark":{"type":"text","text":"(V","fontSize":18},"encoding":{"x":{"datum":-16.53,"axis":null},"y":{"datum":17.3,"axis":null}}},
 {"data":{"values":[{}]},"mark":{"type":"text","text":"Mg"},"encoding":{"x":{"datum":-15.25,"axis":null},"y":{"datum":9.4,"axis":null}}},
 {"data":{"values":[{}]},"mark":{"type":"text","text":"-H","fontSize":18},"encoding":{"x":{"datum":-14.28,"axis":null},"y":{"datum":17.3,"axis":null}}},
 {"data":{"values":[{}]},"mark":{"type":"text","text":"i"},"encoding":{"x":{"datum":-13.1,"axis":null},"y":{"datum":9.4,"axis":null}}},
 {"data":{"values":[{}]},"mark":{"type":"text","text":")","fontSize":18},"encoding":{"x":{"datum":-12.9,"axis":null},"y":{"datum":17.3,"axis":null}}},
 {"data":{"values":[{}]},"mark":{"type":"text","text":"0"},"encoding":{"x":{"datum":-12.55,"axis":null},"y":{"datum":27.7,"axis":null}}}
]},
{"width":570,"height":78,"resolve":{"axis":{"x":"independent","y":"independent"}},"layer":[
 {"data":{"name":"e_up"},"mark":{"type":"area","color":"#ffa500","interpolate":"monotone","line":{"color":"#303030","strokeWidth":1}},"encoding":{"x":{"field":"E","type":"quantitative","scale":{"domain":[-23,15],"nice":false,"zero":false},"axis":{"orient":"bottom","values":[-20,-15,-10,-5,0,5,10],"tickSize":-9,"labels":false,"title":null}},"y":{"field":"dos","type":"quantitative","scale":{"domain":[-45,45],"nice":false},"axis":{"orient":"left","values":[-40,-20,0,20,40],"tickSize":-11,"labelPadding":14,"title":null}}}},
 {"data":{"name":"e_dn"},"mark":{"type":"area","color":"#d9d9d9","interpolate":"monotone","line":{"color":"#303030","strokeWidth":1}},"encoding":{"x":{"field":"E","type":"quantitative","axis":{"orient":"top","values":[-20,-15,-10,-5,0,5,10],"tickSize":-9,"labels":false,"title":null}},"y":{"field":"dos","type":"quantitative","axis":{"orient":"right","values":[-40,-20,0,20,40],"tickSize":-12,"labels":false,"title":null}}}},
 {"data":{"values":[{}]},"mark":{"type":"rule","color":"#555","strokeWidth":1,"strokeDash":[6,2,1,2]},"encoding":{"x":{"datum":0,"axis":null}}},
 {"data":{"values":[{}]},"mark":{"type":"text","text":"(e)","fontSize":19},"encoding":{"x":{"datum":-21.93,"axis":null},"y":{"datum":29,"axis":null}}},
 {"data":{"values":[{}]},"mark":{"type":"text","text":"(V","fontSize":18},"encoding":{"x":{"datum":-16.53,"axis":null},"y":{"datum":19.6,"axis":null}}},
 {"data":{"values":[{}]},"mark":{"type":"text","text":"Mg"},"encoding":{"x":{"datum":-15.25,"axis":null},"y":{"datum":10.5,"axis":null}}},
 {"data":{"values":[{}]},"mark":{"type":"text","text":"-H","fontSize":18},"encoding":{"x":{"datum":-14.28,"axis":null},"y":{"datum":19.6,"axis":null}}},
 {"data":{"values":[{}]},"mark":{"type":"text","text":"i"},"encoding":{"x":{"datum":-13.1,"axis":null},"y":{"datum":10.5,"axis":null}}},
 {"data":{"values":[{}]},"mark":{"type":"text","text":")","fontSize":18},"encoding":{"x":{"datum":-12.9,"axis":null},"y":{"datum":19.6,"axis":null}}},
 {"data":{"values":[{}]},"mark":{"type":"text","text":"-1"},"encoding":{"x":{"datum":-12.55,"axis":null},"y":{"datum":32.7,"axis":null}}}
]},
{"width":570,"height":78,"resolve":{"axis":{"x":"independent","y":"independent"}},"layer":[
 {"data":{"name":"f_up"},"mark":{"type":"area","color":"#ffa500","interpolate":"monotone","line":{"color":"#303030","strokeWidth":1}},"encoding":{"x":{"field":"E","type":"quantitative","scale":{"domain":[-23,15],"nice":false,"zero":false},"axis":{"orient":"bottom","values":[-20,-15,-10,-5,0,5,10],"tickSize":-9,"labels":true,"labelExpr":"datum.value % 10 === 0 ? datum.label : ''","labelFontSize":11,"labelPadding":15,"labelFlush":false,"title":null}},"y":{"field":"dos","type":"quantitative","scale":{"domain":[-45,45],"nice":false},"axis":{"orient":"left","values":[-40,-20,0,20,40],"tickSize":-11,"labelPadding":14,"title":null}}}},
 {"data":{"name":"f_dn"},"mark":{"type":"area","color":"#d9d9d9","interpolate":"monotone","line":{"color":"#303030","strokeWidth":1}},"encoding":{"x":{"field":"E","type":"quantitative","axis":{"orient":"top","values":[-20,-15,-10,-5,0,5,10],"tickSize":-9,"labels":false,"title":null}},"y":{"field":"dos","type":"quantitative","axis":{"orient":"right","values":[-40,-20,0,20,40],"tickSize":-12,"labels":false,"title":null}}}},
 {"data":{"values":[{}]},"mark":{"type":"rule","color":"#555","strokeWidth":1,"strokeDash":[6,2,1,2]},"encoding":{"x":{"datum":0,"axis":null}}},
 {"data":{"values":[{}]},"mark":{"type":"text","text":"(f)","fontSize":19},"encoding":{"x":{"datum":-22.33,"axis":null},"y":{"datum":26.5,"axis":null}}},
 {"data":{"values":[{}]},"mark":{"type":"text","text":"H","fontSize":18},"encoding":{"x":{"datum":-16.53,"axis":null},"y":{"datum":19,"axis":null}}},
 {"data":{"values":[{}]},"mark":{"type":"text","text":"i"},"encoding":{"x":{"datum":-15.73,"axis":null},"y":{"datum":8.7,"axis":null}}},
 {"data":{"values":[{}]},"mark":{"type":"text","text":"+1"},"encoding":{"x":{"datum":-15.67,"axis":null},"y":{"datum":27.7,"axis":null}}},
 {"data":{"values":[{}]},"mark":{"type":"text","text":"E-E","fontSize":16,"align":"right"},"encoding":{"x":{"datum":-4.13,"axis":null},"y":{"datum":-75,"axis":null}}},
 {"data":{"values":[{}]},"mark":{"type":"text","text":"F","fontSize":11},"encoding":{"x":{"datum":-4.07,"axis":null},"y":{"datum":-84,"axis":null}}},
 {"data":{"values":[{}]},"mark":{"type":"text","text":"(eV)","fontSize":16},"encoding":{"x":{"datum":-3.53,"axis":null},"y":{"datum":-75,"axis":null}}}
]}
]
}
